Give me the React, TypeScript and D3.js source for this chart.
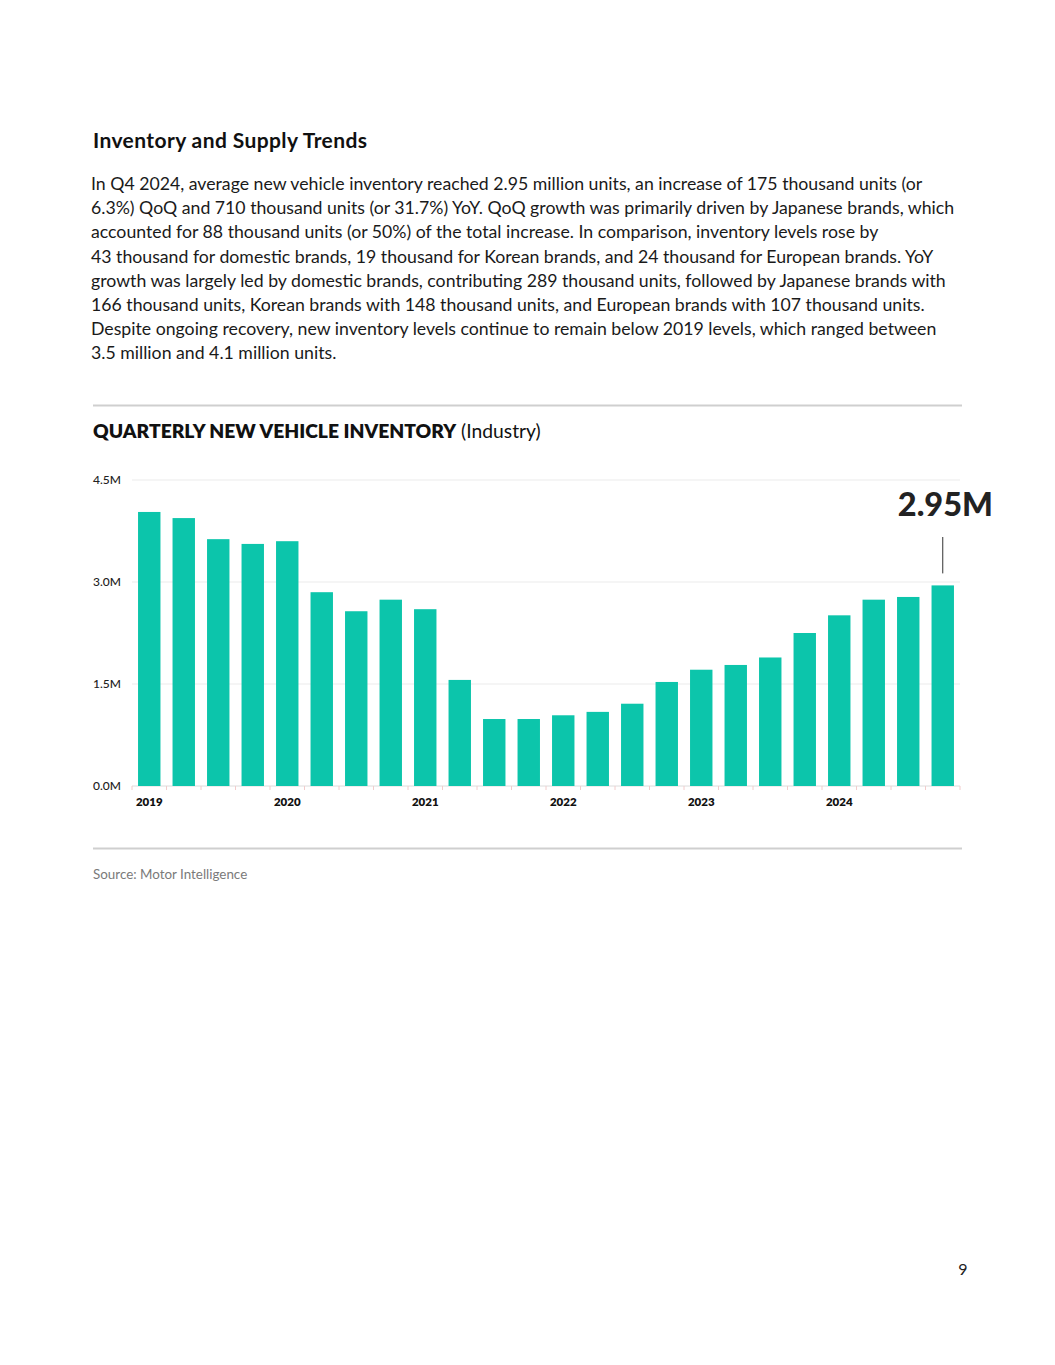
import React from "react";
import * as d3 from "d3";

const quarters = [
  "Q1 2019","Q2 2019","Q3 2019","Q4 2019",
  "Q1 2020","Q2 2020","Q3 2020","Q4 2020",
  "Q1 2021","Q2 2021","Q3 2021","Q4 2021",
  "Q1 2022","Q2 2022","Q3 2022","Q4 2022",
  "Q1 2023","Q2 2023","Q3 2023","Q4 2023",
  "Q1 2024","Q2 2024","Q3 2024","Q4 2024",
];
const inventoryM = [
  4.03, 3.94, 3.63, 3.56,
  3.60, 2.85, 2.57, 2.74,
  2.60, 1.56, 0.985, 0.985,
  1.04, 1.09, 1.21, 1.53,
  1.71, 1.78, 1.89, 2.25,
  2.51, 2.74, 2.78, 2.95,
];
const yTicks = [0, 1.5, 3.0, 4.5];
const yearLabels = ["2019", "2020", "2021", "2022", "2023", "2024"];
const annotationText = "2.95M";

const heading = "Inventory and Supply Trends";
const paragraph = [
  "In Q4 2024, average new vehicle inventory reached 2.95 million units, an increase of 175 thousand units (or",
  "6.3%) QoQ and 710 thousand units (or 31.7%) YoY. QoQ growth was primarily driven by Japanese brands, which",
  "accounted for 88 thousand units (or 50%) of the total increase. In comparison, inventory levels rose by",
  "43 thousand for domestic brands, 19 thousand for Korean brands, and 24 thousand for European brands. YoY",
  "growth was largely led by domestic brands, contributing 289 thousand units, followed by Japanese brands with",
  "166 thousand units, Korean brands with 148 thousand units, and European brands with 107 thousand units.",
  "Despite ongoing recovery, new inventory levels continue to remain below 2019 levels, which ranged between",
  "3.5 million and 4.1 million units.",
];
const chartTitleBold = "QUARTERLY NEW VEHICLE INVENTORY";
const chartTitleRest = " (Industry)";
const sourceText = "Source: Motor Intelligence";
const pageNumber = "9";

const W = 1055;
const H = 1365;
const FONT = "Lato, 'Noto Sans', sans-serif";
const BAR = "#0CC5AB";

export default function App() {
  const plotLeft = 132;
  const plotRight = 960;
  const plotTop = 480;
  const plotBottom = 786;

  const x = d3.scaleBand<string>().domain(quarters).range([plotLeft, plotRight]).paddingInner(0.35).paddingOuter(0.175);
  const y = d3.scaleLinear().domain([0, 4.5]).range([plotBottom, plotTop]);

  const lastQ = quarters[quarters.length - 1];
  const lastV = inventoryM[inventoryM.length - 1];
  const annX = (x(lastQ) as number) + x.bandwidth() / 2;

  const step = x.step();
  const boundaries = d3.range(quarters.length + 1).map((i) => plotLeft + i * step);

  return (
    <svg width={W} height={H} style={{ position: "absolute", left: 0, top: 0, background: "#fff" }} fontFamily={FONT}>
      <text x={93} y={148} fontSize={21} letterSpacing={0.4} fontWeight={700} fill="#111">{heading}</text>
      {paragraph.map((line, i) => (
        <text key={i} x={91} y={190 + i * 24.2} fontSize={17.7} fill="#1a1a1a">{line}</text>
      ))}

      <line x1={93} x2={962} y1={405.5} y2={405.5} stroke="#cfcfcf" strokeWidth={2} />
      <text x={93} y={438} fontSize={19.3} fill="#111">
        <tspan fontWeight={800}>{chartTitleBold}</tspan>
        <tspan fontWeight={400}>{chartTitleRest}</tspan>
      </text>

      {yTicks.map((t) => (
        <g key={t}>
          <line x1={plotLeft} x2={plotRight} y1={y(t)} y2={y(t)} stroke={t === 0 ? "#dcdcdc" : "#ebebeb"} strokeWidth={1} />
          <text x={93} y={y(t)} dy="0.35em" fontSize={12} fontWeight={500} fill="#222">{t.toFixed(1) + "M"}</text>
        </g>
      ))}

      {boundaries.map((bx, i) => (
        <line key={i} x1={bx} x2={bx} y1={plotBottom} y2={plotBottom + 4} stroke="#f2cccc" strokeWidth={1} />
      ))}

      {quarters.map((q, i) => (
        <rect key={q} x={x(q)} y={y(inventoryM[i])} width={x.bandwidth()} height={plotBottom - y(inventoryM[i])} fill={BAR} />
      ))}

      {yearLabels.map((yr, i) => {
        const q = quarters[i * 4];
        return (
          <text key={yr} x={(x(q) as number) + x.bandwidth() / 2} y={806} textAnchor="middle" fontSize={11.5} fontWeight={800} fill="#111">{yr}</text>
        );
      })}

      <line x1={annX} x2={annX} y1={537} y2={y(lastV) - 12} stroke="#333" strokeWidth={1} />
      <text x={993} y={516} textAnchor="end" fontSize={32.5} fontWeight={900} fill="#222">{annotationText}</text>

      <line x1={93} x2={962} y1={848.5} y2={848.5} stroke="#cfcfcf" strokeWidth={2} />
      <text x={93} y={879} fontSize={13.4} fill="#7a7a7a">{sourceText}</text>

      <text x={963} y={1275} textAnchor="middle" fontSize={16} fill="#222">{pageNumber}</text>
    </svg>
  );
}
